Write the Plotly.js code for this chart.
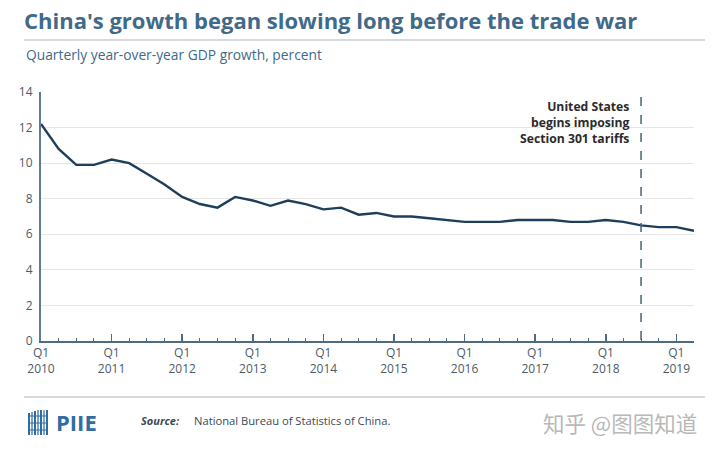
<!DOCTYPE html>
<html>
<head>
<meta charset="utf-8">
<script src="https://cdn.plot.ly/plotly-3.0.1.min.js"></script>
<style>html,body{margin:0;padding:0;background:#fff;}#chart{width:720px;height:454px;}</style>
</head>
<body>
<div id="chart"></div>
<script>
// ---- data ----
var quarterIndex = [0,1,2,3,4,5,6,7,8,9,10,11,12,13,14,15,16,17,18,19,20,21,22,23,24,25,26,27,28,29,30,31,32,33,34,35,36,37];
var gdpGrowth = [12.2,10.8,9.9,9.9, 10.2,10.0,9.4,8.8, 8.1,7.7,7.5,8.1, 7.9,7.6,7.9,7.7, 7.4,7.5,7.1,7.2, 7.0,7.0,6.9,6.8, 6.7,6.7,6.7,6.8, 6.8,6.8,6.7,6.7, 6.8,6.7,6.5,6.4, 6.4,6.2];
var yearTickVals = [0,4,8,12,16,20,24,28,32,36];
var yearTickText = ["Q1<br>2010","Q1<br>2011","Q1<br>2012","Q1<br>2013","Q1<br>2014","Q1<br>2015","Q1<br>2016","Q1<br>2017","Q1<br>2018","Q1<br>2019"];
var tariffQuarter = 34; // Q3 2018

// ---- layout helpers (pixel -> paper) ----
var L = 41, R = 694, T = 92, B = 341;
function px(x){ return (x - L) / (R - L); }
function py(y){ return (B - y) / (B - T); }

var axisCol = '#4f6b80';
var font = 'Open Sans, DejaVu Sans, sans-serif';

var shapes = [
  // rule under title
  {type:'line', xref:'paper', yref:'paper', x0:px(24), x1:px(705), y0:py(40), y1:py(40), line:{color:'#c9ced3', width:1.5}},
  // rule above footer
  {type:'line', xref:'paper', yref:'paper', x0:px(24), x1:px(705), y0:py(397), y1:py(397), line:{color:'#c9ced3', width:1.5}},
  // tariff dashed line
  {type:'line', xref:'x', yref:'paper', x0:tariffQuarter, x1:tariffQuarter, y0:py(340), y1:py(88), line:{color:'#4a6275', width:1.5, dash:'dash'}}
];
// PIIE building icon (decorative)
var iconCols = [29,32,35,38,41,44,47];
iconCols.forEach(function(x, i){
  var top = 410 + (i < 3 ? 3 - i : 0);
  shapes.push({type:'line', xref:'paper', yref:'paper', x0:px(x), x1:px(x), y0:py(435), y1:py(top), line:{color: i%2 ? '#7fa6c8' : '#2e6da4', width:2}});
});
[416,423,430].forEach(function(y){
  shapes.push({type:'line', xref:'paper', yref:'paper', x0:px(28), x1:px(48), y0:py(y), y1:py(y), line:{color:'#2e6da4', width:1}});
});

var annotations = [
  {xref:'paper', yref:'paper', x:px(24), y:py(55), xanchor:'left', yanchor:'middle', showarrow:false,
   text:'Quarterly year-over-year GDP growth, percent', font:{family:font, size:13.8, color:'#3f6a8a'}},
  {xref:'x', yref:'paper', x:tariffQuarter, xshift:-10, y:py(96), xanchor:'right', yanchor:'top', align:'right', showarrow:false,
   text:'<b>United States<br>begins imposing<br>Section 301 tariffs</b>', font:{family:font, size:12.2, color:'#2b2b2b'}},
  {xref:'paper', yref:'paper', x:px(54), y:py(422), xanchor:'left', yanchor:'middle', showarrow:false,
   text:'<b>PIIE</b>', font:{family:font, size:22, color:'#2e6da4'}},
  {xref:'paper', yref:'paper', x:px(139), y:py(420), xanchor:'left', yanchor:'middle', showarrow:false,
   text:'<b><i>Source:</i></b>', font:{family:font, size:11, color:'#3a4a58'}},
  {xref:'paper', yref:'paper', x:px(192), y:py(420), xanchor:'left', yanchor:'middle', showarrow:false,
   text:'National Bureau of Statistics of China.', font:{family:font, size:11.2, color:'#3a4a58'}},
  {xref:'paper', yref:'paper', x:px(541), y:py(422), xanchor:'left', yanchor:'middle', showarrow:false,
   text:'知乎 @图图知道', font:{family:'Noto Sans CJK SC, sans-serif', size:21.5, color:'#b8b8b8'}}
];

var trace = {
  x: quarterIndex, y: gdpGrowth, type:'scatter', mode:'lines',
  line:{color:'#1d3f5c', width:2.4}, hoverinfo:'skip', cliponaxis:false
};

var layout = {
  width:720, height:454,
  margin:{l:L, r:720-R, t:T, b:454-B, pad:0},
  paper_bgcolor:'#fff', plot_bgcolor:'#fff',
  showlegend:false,
  title:{text:'<b>China\'s growth began slowing long before the trade war</b>', xref:'container', yref:'container',
         x:24/720, xanchor:'left', y:1-21/454, yanchor:'middle', font:{family:font, size:22, color:'#3f6a8a'}},
  xaxis:{range:[0,37], tickmode:'array', tickvals:yearTickVals, ticktext:yearTickText,
         ticks:'inside', ticklen:7, tickwidth:1.5, tickcolor:axisCol,
         minor:{tickmode:'array', tickvals:quarterIndex, ticks:'inside', ticklen:3, tickwidth:1, tickcolor:axisCol, showgrid:false},
         showline:true, linecolor:axisCol, linewidth:1.5, showgrid:false, zeroline:false,
         tickfont:{family:font, size:12, color:'#4d5b68'}, fixedrange:true},
  yaxis:{range:[0,14], dtick:2, tick0:0, showgrid:true, gridcolor:'#e6e6e6', gridwidth:1,
         showline:true, linecolor:'#5d7d94', linewidth:2, ticks:'', zeroline:false,
         ticklabelstandoff:4,
         tickfont:{family:font, size:12, color:'#4d5b68'}, fixedrange:true},
  shapes:shapes, annotations:annotations
};

Plotly.newPlot('chart', [trace], layout, {displayModeBar:false, staticPlot:true});
</script>
</body>
</html>
